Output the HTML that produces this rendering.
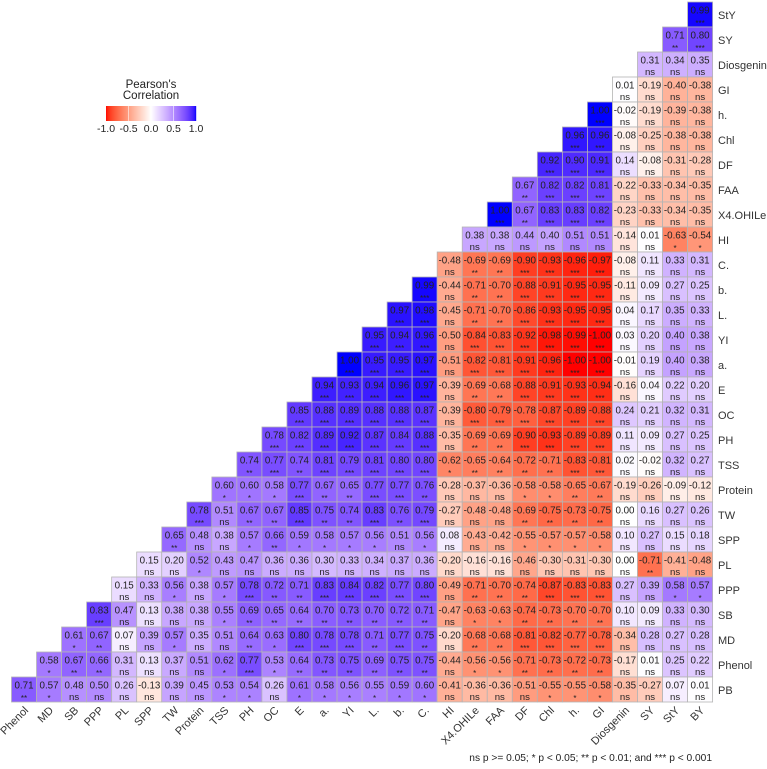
<!DOCTYPE html>
<html><head><meta charset="utf-8">
<style>
html,body{margin:0;padding:0;background:#fff;}
svg{display:block;font-family:"Liberation Sans",Arial,sans-serif;}
</style></head>
<body>
<svg id="chart" width="767" height="769" viewBox="0 0 767 769" xmlns="http://www.w3.org/2000/svg">
<g id="cells"></g>
<g id="rlabels"></g>
<g id="blabels"></g>
<g id="legend"></g>
<text x="712" y="761" text-anchor="end" font-size="10.2" fill="#222">ns p &gt;= 0.05; * p &lt; 0.05; ** p &lt; 0.01; and *** p &lt; 0.001</text>
</svg>
<script>
const columns = ["Phenol","MD","SB","PPP","PL","SPP","TW","Protein","TSS","PH","OC","E","a.","YI","L.","b.","C.","HI","X4.OHILe","FAA","DF","Chl","h.","GI","Diosgenin","SY","StY","BY"];
const rowsLabels = ["StY","SY","Diosgenin","GI","h.","Chl","DF","FAA","X4.OHILe","HI","C.","b.","L.","YI","a.","E","OC","PH","TSS","Protein","TW","SPP","PL","PPP","SB","MD","Phenol","PB"];
const rStY = [0.99];
const rSY = [0.71,0.80];
const rDiosgenin = [0.31,0.34,0.35];
const rGI = [0.01,-0.19,-0.40,-0.38];
const rH = [1.00,-0.02,-0.19,-0.39,-0.38];
const rChl = [0.96,0.96,-0.08,-0.25,-0.38,-0.38];
const rDF = [0.92,0.90,0.91,0.14,-0.08,-0.31,-0.28];
const rFAA = [0.67,0.82,0.82,0.81,-0.22,-0.33,-0.34,-0.35];
const rX4 = [1.00,0.67,0.83,0.83,0.82,-0.23,-0.33,-0.34,-0.35];
const rHI = [0.38,0.38,0.44,0.40,0.51,0.51,-0.14,0.01,-0.63,-0.54];
const rC = [-0.48,-0.69,-0.69,-0.90,-0.93,-0.96,-0.97,-0.08,0.11,0.33,0.31];
const rB = [0.99,-0.44,-0.71,-0.70,-0.88,-0.91,-0.95,-0.95,-0.11,0.09,0.27,0.25];
const rL = [0.97,0.98,-0.45,-0.71,-0.70,-0.86,-0.93,-0.95,-0.95,0.04,0.17,0.35,0.33];
const rYI = [0.95,0.94,0.96,-0.50,-0.84,-0.83,-0.92,-0.98,-0.99,-1.00,0.03,0.20,0.40,0.38];
const rA = [1.00,0.95,0.95,0.97,-0.51,-0.82,-0.81,-0.91,-0.96,-1.00,-1.00,-0.01,0.19,0.40,0.38];
const rE = [0.94,0.93,0.94,0.96,0.97,-0.39,-0.69,-0.68,-0.88,-0.91,-0.93,-0.94,-0.16,0.04,0.22,0.20];
const rOC = [0.85,0.88,0.89,0.88,0.88,0.87,-0.39,-0.80,-0.79,-0.78,-0.87,-0.89,-0.88,0.24,0.21,0.32,0.31];
const rPH = [0.78,0.82,0.89,0.92,0.87,0.84,0.88,-0.35,-0.69,-0.69,-0.90,-0.93,-0.89,-0.89,0.11,0.09,0.27,0.25];
const rTSS = [0.74,0.77,0.74,0.81,0.79,0.81,0.80,0.80,-0.62,-0.65,-0.64,-0.72,-0.71,-0.83,-0.81,0.02,-0.02,0.32,0.27];
const rProtein = [0.60,0.60,0.58,0.77,0.67,0.65,0.77,0.77,0.76,-0.28,-0.37,-0.36,-0.58,-0.58,-0.65,-0.67,-0.19,-0.26,-0.09,-0.12];
const rTW = [0.78,0.51,0.67,0.67,0.85,0.75,0.74,0.83,0.76,0.79,-0.27,-0.48,-0.48,-0.69,-0.75,-0.73,-0.75,0.00,0.16,0.27,0.26];
const rSPP = [0.65,0.48,0.38,0.57,0.66,0.59,0.58,0.57,0.56,0.51,0.56,0.08,-0.43,-0.42,-0.55,-0.57,-0.57,-0.58,0.10,0.27,0.15,0.18];
const rPL = [0.15,0.20,0.52,0.43,0.47,0.36,0.36,0.30,0.33,0.34,0.37,0.36,-0.20,-0.16,-0.16,-0.46,-0.30,-0.31,-0.30,0.00,-0.71,-0.41,-0.48];
const rPPP = [0.15,0.33,0.56,0.38,0.57,0.78,0.72,0.71,0.83,0.84,0.82,0.77,0.80,-0.49,-0.71,-0.70,-0.74,-0.87,-0.83,-0.83,0.27,0.39,0.58,0.57];
const rSB = [0.83,0.47,0.13,0.38,0.38,0.55,0.69,0.65,0.64,0.70,0.73,0.70,0.72,0.71,-0.47,-0.63,-0.63,-0.74,-0.73,-0.70,-0.70,0.10,0.09,0.33,0.30];
const rMD = [0.61,0.67,0.07,0.39,0.57,0.35,0.51,0.64,0.63,0.80,0.78,0.78,0.71,0.77,0.75,-0.20,-0.68,-0.68,-0.81,-0.82,-0.77,-0.78,-0.34,0.28,0.27,0.28];
const rPhenol = [0.58,0.67,0.66,0.31,0.13,0.37,0.51,0.62,0.77,0.53,0.64,0.73,0.75,0.69,0.75,0.75,-0.44,-0.56,-0.56,-0.71,-0.73,-0.72,-0.73,-0.17,0.01,0.25,0.22];
const rPB = [0.71,0.57,0.48,0.50,0.26,-0.13,0.39,0.45,0.53,0.54,0.26,0.61,0.58,0.56,0.55,0.59,0.60,-0.41,-0.36,-0.36,-0.51,-0.55,-0.55,-0.58,-0.35,-0.27,0.07,0.01];
const legendTicks = [-1.0,-0.5,0.0,0.5,1.0];

const rowValues = [rStY,rSY,rDiosgenin,rGI,rH,rChl,rDF,rFAA,rX4,rHI,rC,rB,rL,rYI,rA,rE,rOC,rPH,rTSS,rProtein,rTW,rSPP,rPL,rPPP,rSB,rMD,rPhenol,rPB];

const NS="http://www.w3.org/2000/svg";
const X0=11.5, Y0=2, CW=25.04, CH=25;
const xPos = c => X0 + c*CW;
const yPos = r => Y0 + r*CH;

function toLin(c){c/=255;return c<=0.04045?c/12.92:Math.pow((c+0.055)/1.055,2.4);}
function fromLin(c){c=c<=0.0031308?12.92*c:1.055*Math.pow(c,1/2.4)-0.055;return Math.max(0,Math.min(255,Math.round(c*255)));}
function rgb2lab(r,g,b){r=toLin(r);g=toLin(g);b=toLin(b);
 let x=(r*0.4124+g*0.3576+b*0.1805)/0.95047,y=r*0.2126+g*0.7152+b*0.0722,z=(r*0.0193+g*0.1192+b*0.9505)/1.08883;
 const f=t=>t>0.008856?Math.cbrt(t):7.787*t+16/116;
 x=f(x);y=f(y);z=f(z);return [116*y-16,500*(x-y),200*(y-z)];}
function lab2rgb(L,a,b){let y=(L+16)/116,x=a/500+y,z=y-b/200;
 const fi=t=>t*t*t>0.008856?t*t*t:(t-16/116)/7.787;
 x=fi(x)*0.95047;y=fi(y);z=fi(z)*1.08883;
 const r=x*3.2406+y*-1.5372+z*-0.4986,g=x*-0.9689+y*1.8758+z*0.0415,bb=x*0.0557+y*-0.2040+z*1.0570;
 return `rgb(${fromLin(r)},${fromLin(g)},${fromLin(bb)})`;}
const LOW=rgb2lab(255,0,0), MID=rgb2lab(255,255,255), HIGH=rgb2lab(0,0,255);
function color(v){v=Math.max(-1,Math.min(1,v));const t=Math.abs(v),e=v<0?LOW:HIGH;
 return lab2rgb(MID[0]+(e[0]-MID[0])*t,MID[1]+(e[1]-MID[1])*t,MID[2]+(e[2]-MID[2])*t);}
function stars(v){const a=Math.abs(v);if(a>=0.765)return "***";if(a>=0.64)return "**";if(a>=0.515)return "*";return "ns";}

const cells=document.getElementById('cells');
rowValues.forEach((vals,r)=>{
  const start=columns.length-vals.length;
  vals.forEach((v,k)=>{
    const c=start+k;
    const g=document.createElementNS(NS,'g');
    
    
    const rect=document.createElementNS(NS,'rect');
    rect.setAttribute('x',xPos(c));rect.setAttribute('y',yPos(r));
    rect.setAttribute('width',CW);rect.setAttribute('height',CH);
    rect.setAttribute('fill',color(v));rect.setAttribute('stroke','#b4b4b4');rect.setAttribute('stroke-width','0.8');
    g.appendChild(rect);
    const t1=document.createElementNS(NS,'text');
    t1.setAttribute('x',xPos(c)+CW/2);t1.setAttribute('y',yPos(r)+11.5);
    t1.setAttribute('text-anchor','middle');t1.setAttribute('font-size','9.8');t1.setAttribute('fill','#222');
    t1.textContent=v.toFixed(2);g.appendChild(t1);
    const s=stars(v);
    const t2=document.createElementNS(NS,'text');
    t2.setAttribute('x',xPos(c)+CW/2);t2.setAttribute('y',yPos(r)+(s==="ns"?23:24));
    t2.setAttribute('text-anchor','middle');t2.setAttribute('font-size',s==="ns"?'9.6':'8');t2.setAttribute('fill','#222');
    t2.textContent=s;g.appendChild(t2);
    cells.appendChild(g);
  });
});

const rl=document.getElementById('rlabels');
rowsLabels.forEach((lab,r)=>{
  const t=document.createElementNS(NS,'text');
  
  
  t.setAttribute('x',718);t.setAttribute('y',yPos(r)+CH/2+4.5);
  t.setAttribute('font-size','11');t.setAttribute('fill','#333');
  t.textContent=lab;rl.appendChild(t);
});
const bl=document.getElementById('blabels');
columns.forEach((lab,c)=>{
  const x=xPos(c)+CW/2+5, y=711;
  const t=document.createElementNS(NS,'text');
  
  
  t.setAttribute('x',x);t.setAttribute('y',y);
  t.setAttribute('text-anchor','end');t.setAttribute('font-size','11');t.setAttribute('fill','#333');
  t.setAttribute('transform',`rotate(-45 ${x} ${y})`);
  t.textContent=lab;bl.appendChild(t);
});

const lg=document.getElementById('legend');
const LX0=106, LX1=196, LY=106, LH=15;
const lx = v => LX0 + (v+1)/2*(LX1-LX0);
const t1=document.createElementNS(NS,'text');

t1.setAttribute('x',151);t1.setAttribute('y',88);t1.setAttribute('text-anchor','middle');t1.setAttribute('font-size','11.5');t1.setAttribute('fill','#222');
t1.textContent="Pearson's";lg.appendChild(t1);
const t2=document.createElementNS(NS,'text');

t2.setAttribute('x',151);t2.setAttribute('y',99);t2.setAttribute('text-anchor','middle');t2.setAttribute('font-size','11.5');t2.setAttribute('fill','#222');
t2.textContent="Correlation";lg.appendChild(t2);
for(let i=0;i<90;i++){
  const v=-1+2*(i+0.5)/90;
  const r=document.createElementNS(NS,'rect');
  
  r.setAttribute('x',LX0+i);r.setAttribute('y',LY);r.setAttribute('width',1.2);r.setAttribute('height',LH);
  r.setAttribute('fill',color(v));lg.appendChild(r);
}
legendTicks.forEach(v=>{
  const l=document.createElementNS(NS,'line');
  
  l.setAttribute('x1',lx(v));l.setAttribute('x2',lx(v));l.setAttribute('y1',LY);l.setAttribute('y2',LY+LH);
  l.setAttribute('stroke','#fff');l.setAttribute('stroke-width','0.8');l.setAttribute('opacity','0.7');
  if(Math.abs(v)<1)lg.appendChild(l);
  const t=document.createElementNS(NS,'text');
  
  t.setAttribute('x',lx(v));t.setAttribute('y',LY+LH+11);t.setAttribute('text-anchor','middle');
  t.setAttribute('font-size','10.5');t.setAttribute('fill','#222');
  t.textContent=v.toFixed(1);lg.appendChild(t);
});
</script>
</body></html>
